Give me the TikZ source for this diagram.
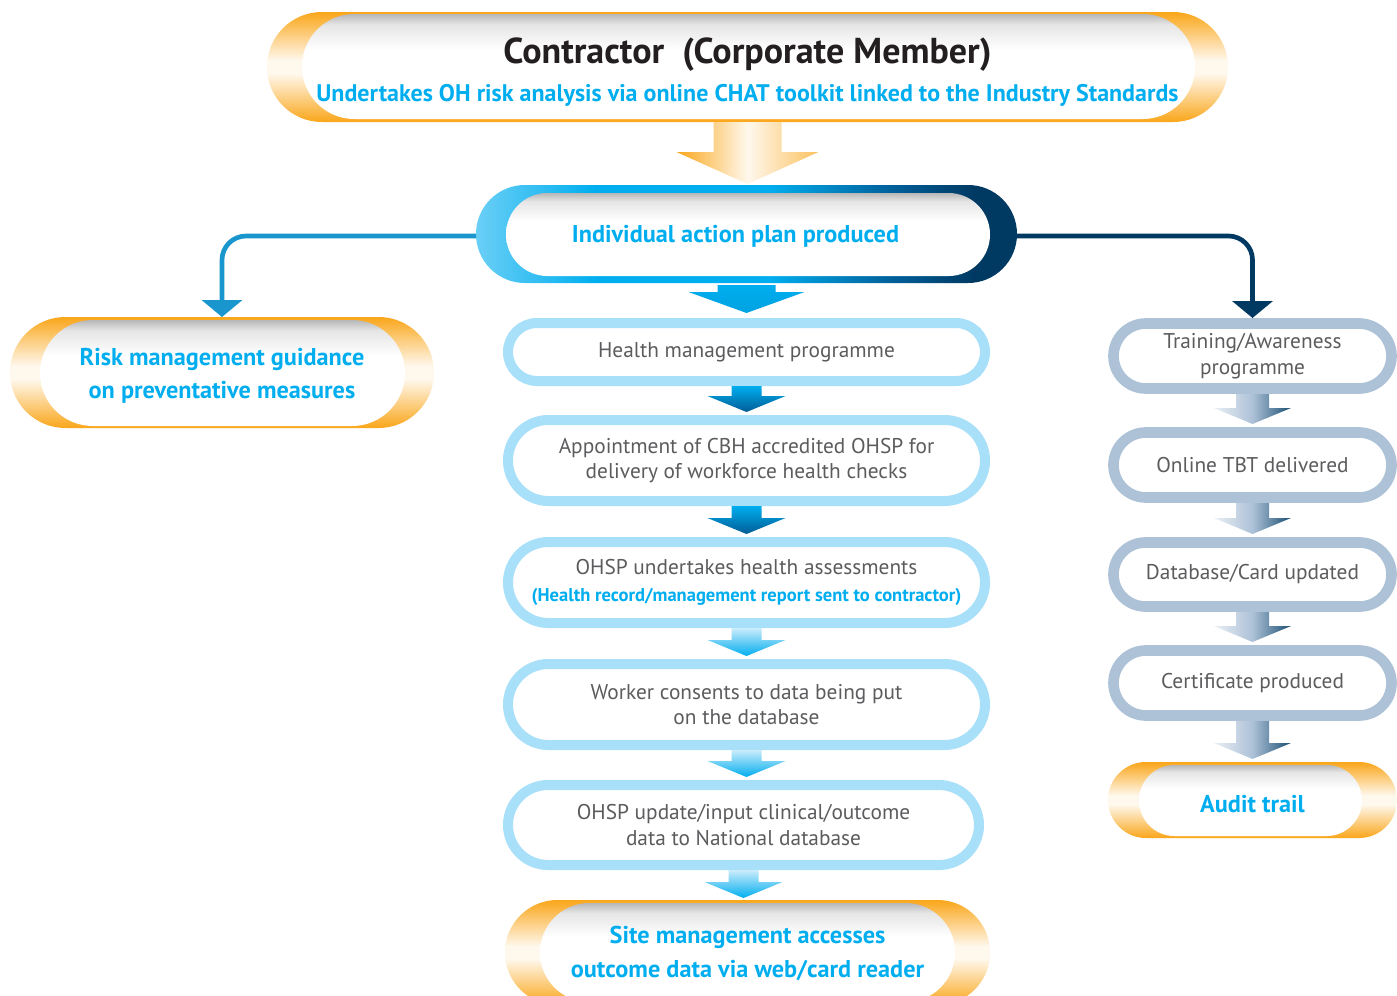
\documentclass[tikz,border=0pt]{standalone}
\usepackage{fontspec}
\setmainfont{PT Sans}
\usetikzlibrary{calc,arrows.meta}
\definecolor{cyanT}{RGB}{0,174,239}
\definecolor{orng}{RGB}{250,166,26}
\definecolor{ringB}{RGB}{168,223,249}
\definecolor{ringG}{RGB}{173,193,215}
\definecolor{navy}{RGB}{0,58,99}
\definecolor{darkB}{RGB}{0,92,150}
\definecolor{lightPB}{RGB}{106,207,246}
\definecolor{txtG}{RGB}{92,92,95}
\definecolor{lconnC}{RGB}{24,150,205}
\definecolor{titleC}{RGB}{35,31,32}
\pgfdeclareverticalshading{orangecyl}{100bp}{color(0bp)=(orng); color(25bp)=(orng); color(47bp)=(orng!8); color(53bp)=(orng!8); color(75bp)=(orng); color(100bp)=(orng)}
\pgfdeclareverticalshading{innerwhite}{100bp}{color(0bp)=(white); color(25bp)=(white); color(58bp)=(white); color(70bp)=(black!10); color(75bp)=(black!28); color(100bp)=(black!28)}
\pgfdeclarehorizontalshading{planshade}{100bp}{color(0bp)=(lightPB); color(25bp)=(lightPB); color(36bp)=(cyanT); color(52bp)=(cyanT); color(64bp)=(darkB); color(71bp)=(navy); color(100bp)=(navy)}
\newcommand\capsule[5]{\path[#1, rounded corners={(#5-#3)/2*0.749pt}] (#2,#3) rectangle (#4,#5);}
\newcommand\blockarrow[7]{%
  \path[#1] let \p1=(#2.south), \p2=(#3.north) in
  (\x1-#4*0.75pt,\y1) -- (\x1+#4*0.75pt,\y1) -- (\x1+#4*0.75pt,\y2+#7*0.75pt+#6*0.75pt)
  -- (\x1+#5*0.75pt,\y2+#7*0.75pt+#6*0.75pt) -- (\x1,\y2+#7*0.75pt)
  -- (\x1-#5*0.75pt,\y2+#7*0.75pt+#6*0.75pt) -- (\x1-#4*0.75pt,\y2+#7*0.75pt+#6*0.75pt) -- cycle;}
\tikzset{
  orangeout/.style={shade, shading=orangecyl},
  innerw/.style={shade, shading=innerwhite},
  planout/.style={shade, shading=planshade},
  ringb/.style={draw=ringB, line width=7.5pt, fill=white},
  ringg/.style={draw=ringG, line width=8pt, fill=white},
  sz/.style 2 args={minimum width=#1*0.75pt, minimum height=#2*0.75pt},
  boxnode/.style={inner sep=0pt, outer sep=0pt, align=center},
  lighttxt/.style={boxnode, text=txtG, font=\fontsize{16}{19}\selectfont},
  cyantxt/.style={boxnode, text=cyanT, font=\bfseries\fontsize{18.2}{25}\selectfont},
  bigarrow/.style={left color=orng, right color=orng!70, middle color=orng!8},
  cyanarrow/.style={top color=cyanT, bottom color=darkB},
  planarrow/.style={top color=cyanT, bottom color=cyanT!85!darkB},
  lightarrow/.style={top color=ringB!60, bottom color=cyanT},
  grayarrow/.style={left color=ringG!25, right color=navy!90, middle color=ringG},
  lconn/.style={draw=lconnC, line width=3.5pt, rounded corners=18pt, -{Triangle[width=30pt,length=12.75pt]}},
  rconn/.style={draw=navy, line width=3.5pt, rounded corners=18pt, -{Triangle[width=30pt,length=12.75pt]}}
}
\begin{document}
\begin{tikzpicture}[x=0.75pt,y=-0.75pt]
\useasboundingbox (0,0) rectangle (1397,996);
\clip (0,0) rectangle (1397,996);
\fill[white] (0,0) rectangle (1397,996);
% decorative capsules
\capsule{orangeout}{267}{12}{1228}{122}
\capsule{innerw}{302}{14}{1195}{119}
\capsule{planout}{476}{185}{1017}{283}
\capsule{innerw}{506}{193}{990}{276}
\capsule{orangeout}{10}{317}{434}{428}
\capsule{innerw}{40}{320}{405}{426}
\capsule{orangeout}{505}{900}{990}{1005}
\capsule{innerw}{540}{903}{955}{1002}
\capsule{orangeout}{1108}{762}{1397}{838}
\capsule{innerw}{1139}{765}{1362}{836}
\capsule{ringb}{508}{323}{985}{381}
\capsule{ringb}{508}{420}{985}{501}
\capsule{ringb}{508}{542}{985}{623}
\capsule{ringb}{508}{664}{985}{745}
\capsule{ringb}{508}{785}{979}{865}
\capsule{ringg}{1113.5}{323.5}{1391.5}{388.5}
\capsule{ringg}{1113.5}{432.5}{1391.5}{497.5}
\capsule{ringg}{1113.5}{542.5}{1391.5}{606.5}
\capsule{ringg}{1113.5}{650.5}{1391.5}{715.5}
% nodes
\node[boxnode, sz={961}{100}, font=\bfseries\fontsize{18}{28}\selectfont] (top) at (747.5,72)
  {{\color{titleC}\fontsize{27}{28}\selectfont Contractor\ \ (Corporate Member)}\\
   {\color{cyanT}Undertakes OH risk analysis via online CHAT toolkit linked to the Industry Standards}};
\node[cyantxt, sz={541}{98}] (plan) at (746.5,236) {Individual action plan produced\hspace*{16.5pt}};
\node[cyantxt, sz={424}{117}] (risk) at (222,375.5) {Risk management guidance\\on preventative measures};
\node[lighttxt, sz={487}{68}] (b1) at (746.5,352) {Health management programme};
\node[lighttxt, sz={487}{91}] (b2) at (746.5,460.5) {Appointment of CBH accredited OHSP for\\delivery of workforce health checks};
\node[lighttxt, sz={487}{91}, font=\fontsize{16}{20}\selectfont] (b3) at (746.5,582.5) {OHSP undertakes health assessments\\
  {\bfseries\color{cyanT}\fontsize{13.9}{15}\selectfont (Health record/management report sent to contractor)}};
\node[lighttxt, sz={487}{91}] (b4) at (746.5,704.5) {Worker consents to data being put\\on the database};
\node[lighttxt, sz={481}{90}] (b5) at (743.5,825) {OHSP update/input clinical/outcome\\data to National database};
\node[cyantxt, sz={485}{105}] (site) at (747.5,953.5) {Site management accesses\\outcome data via web/card reader};
\node[lighttxt, sz={289}{76}] (r1) at (1252.5,356) {Training/Awareness\\programme};
\node[lighttxt, sz={289}{76}] (r2) at (1252.5,465) {Online TBT delivered};
\node[lighttxt, sz={289}{75}] (r3) at (1252.5,574.5) {Database/Card updated};
\node[lighttxt, sz={289}{76}] (r4) at (1252.5,683) {Certificate produced};
\node[cyantxt, sz={289}{84}] (audit) at (1252.5,804) {Audit trail};
% block arrows
\blockarrow{bigarrow}{top}{plan}{34}{71}{32}{3}
\blockarrow{planarrow}{plan}{b1}{29}{58}{21}{5}
\blockarrow{cyanarrow}{b1}{b2}{15}{39}{16}{3}
\blockarrow{cyanarrow}{b2}{b3}{15}{39}{16}{3}
\blockarrow{lightarrow}{b3}{b4}{15}{39}{16}{3}
\blockarrow{lightarrow}{b4}{b5}{15}{39}{16}{3}
\blockarrow{lightarrow}{b5}{site}{15}{39}{16}{3}
\blockarrow{grayarrow}{r1}{r2}{16.5}{38.5}{16}{3}
\blockarrow{grayarrow}{r2}{r3}{16.5}{38.5}{16}{3}
\blockarrow{grayarrow}{r3}{r4}{16.5}{38.5}{16}{3}
\blockarrow{grayarrow}{r4}{audit}{16.5}{38.5}{16}{3}
% connectors
\draw[lconn] (plan.west) -| (risk.north);
\draw[rconn] (plan.east) -| (r1.north);
\end{tikzpicture}
\end{document}
